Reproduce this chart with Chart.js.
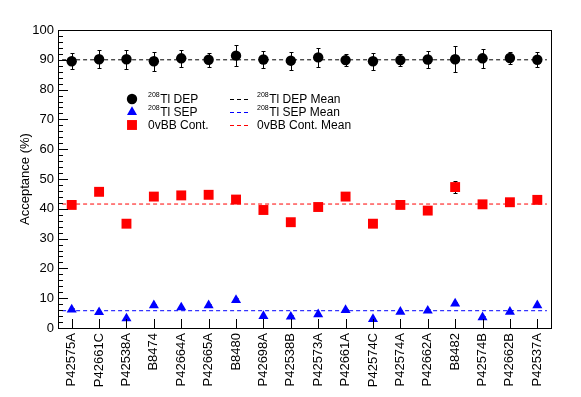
<!DOCTYPE html>
<html>
<head>
<meta charset="utf-8">
<script src="https://cdn.jsdelivr.net/npm/chart.js@4.4.0/dist/chart.umd.min.js"></script>
<style>
  body { margin: 0; background: #fff; }
</style>
</head>
<body>
<canvas id="accChart" width="581" height="397"></canvas>
<script>
// Detectors along the x axis
const detectors = ['P42575A', 'P42661C', 'P42538A', 'B8474', 'P42664A', 'P42665A', 'B8480', 'P42698A', 'P42538B',
    'P42573A', 'P42661A', 'P42574C', 'P42574A', 'P42662A', 'B8482', 'P42574B', 'P42662B', 'P42537A'];

// Acceptance (%) and errors
const depValues = [89.5, 90.2, 90.2, 89.5, 90.5, 90.0, 91.4, 90.1, 89.7, 90.8, 89.9, 89.5, 89.9, 90.1, 90.2, 90.5, 90.6, 90.0];
const depErrors = [2.7, 3.1, 3.2, 3.2, 2.8, 2.4, 3.5, 2.7, 3.0, 3.3, 2.1, 2.8, 2.0, 3.0, 4.4, 3.2, 2.1, 2.5];
const sepValues = [6.2, 5.3, 3.2, 7.6, 6.9, 7.6, 9.4, 4.0, 3.8, 4.6, 6.0, 3.0, 5.4, 5.8, 8.2, 3.6, 5.4, 7.6];
const sepErrors = [0.5, 0.5, 0.4, 0.5, 0.5, 0.5, 0.6, 0.4, 0.4, 0.5, 0.5, 0.4, 0.5, 0.5, 0.6, 0.4, 0.5, 0.5];
const bbValues = [41.3, 45.7, 35.0, 44.1, 44.5, 44.7, 43.1, 39.6, 35.5, 40.6, 44.1, 35.0, 41.3, 39.4, 47.3, 41.5, 42.2, 43.0];
const bbErrors = [1.0, 1.0, 1.0, 1.0, 1.0, 1.0, 1.0, 1.0, 1.0, 1.0, 1.0, 1.0, 1.0, 1.0, 2.1, 1.0, 1.0, 1.0];

// Mean values
const depMean = 90.0;
const sepMean = 5.8;
const bbMean = 41.6;

Chart.defaults.font.family = '"Liberation Sans", Arial, sans-serif';
Chart.defaults.color = '#000';

function meanLine(label, value, color) {
    return {
        label: label,
        data: [{ x: 0.15, y: value }, { x: 17.85, y: value }],
        xAxisID: 'xm',
        borderColor: color,
        borderWidth: 1,
        borderDash: [4, 3],
        pointRadius: 0,
        order: 1,
        legendCol: 1
    };
}

// ROOT-like frame, inward ticks, error bars and legend
const rootStyle = {
    id: 'rootStyle',
    beforeDatasetsDraw(chart) {
        const { ctx, scales: { x, y } } = chart;
        ctx.save();
        ctx.strokeStyle = '#000';
        ctx.lineWidth = 1;
        chart.data.datasets.forEach(ds => {
            if (!ds.errors) return;
            ds.data.forEach((v, i) => {
                const px = Math.round(x.getPixelForValue(i)) + 0.5;
                const top = Math.round(y.getPixelForValue(v + ds.errors[i])) + 0.5;
                const bot = Math.round(y.getPixelForValue(v - ds.errors[i])) + 0.5;
                ctx.beginPath();
                ctx.moveTo(px, top);
                ctx.lineTo(px, bot);
                ctx.moveTo(px - 2, top);
                ctx.lineTo(px + 2, top);
                ctx.moveTo(px - 2, bot);
                ctx.lineTo(px + 2, bot);
                ctx.stroke();
            });
        });
        ctx.restore();
    },
    afterDraw(chart) {
        const { ctx, chartArea: area, scales: { x, y } } = chart;
        ctx.save();
        ctx.strokeStyle = '#000';
        ctx.lineWidth = 1;
        ctx.strokeRect(Math.round(area.left) + 0.5, Math.round(area.top) + 0.5,
            Math.round(area.right - area.left), Math.round(area.bottom - area.top));

        // y ticks: major every 10, minor every 2
        ctx.beginPath();
        for (let v = 0; v <= 100; v += 2) {
            const py = Math.round(y.getPixelForValue(v)) + 0.5;
            const len = v % 10 === 0 ? 10 : 5;
            ctx.moveTo(area.left, py);
            ctx.lineTo(area.left + len, py);
        }
        // x ticks at bin centres
        detectors.forEach((d, i) => {
            const px = Math.round(x.getPixelForValue(i)) + 0.5;
            ctx.moveTo(px, area.bottom);
            ctx.lineTo(px, area.bottom - 9);
        });
        ctx.stroke();

        // legend
        const rows = [99, 112, 125];
        const cols = [{ mark: 132, text: 148 }, { mark: 230, text: 257 }];
        const count = [0, 0];
        chart.data.datasets.forEach(ds => {
            const c = ds.legendCol;
            const row = rows[count[c]++];
            const col = cols[c];
            if (c === 0) {
                ctx.fillStyle = ds.pointBackgroundColor;
                Chart.helpers.drawPoint(ctx, { pointStyle: ds.pointStyle, radius: ds.pointRadius, rotation: 0, borderWidth: 0 }, col.mark, row);
            } else {
                ctx.strokeStyle = ds.borderColor;
                ctx.setLineDash(ds.borderDash);
                ctx.beginPath();
                ctx.moveTo(col.mark, row + 0.5);
                ctx.lineTo(col.mark + 20, row + 0.5);
                ctx.stroke();
                ctx.setLineDash([]);
            }
            ctx.fillStyle = '#000';
            ctx.textBaseline = 'middle';
            ctx.textAlign = 'left';
            let tx = col.text;
            let label = ds.label;
            const m = label.match(/^\^\{(\d+)\}(.*)$/);
            if (m) {
                ctx.font = '7px "Liberation Sans", Arial, sans-serif';
                ctx.fillText(m[1], tx, row - 4);
                tx += ctx.measureText(m[1]).width + 0.5;
                label = m[2];
            }
            ctx.font = '12px "Liberation Sans", Arial, sans-serif';
            ctx.fillText(label, tx, row + 1);
        });
        ctx.restore();
    }
};

new Chart(document.getElementById('accChart'), {
    type: 'line',
    data: {
        labels: detectors,
        datasets: [
            {
                label: '^{208}Tl DEP',
                data: depValues,
                errors: depErrors,
                showLine: false,
                pointStyle: 'circle',
                pointRadius: 5.2,
                pointBackgroundColor: '#000',
                pointBorderWidth: 0,
                order: 0,
                legendCol: 0
            },
            {
                label: '^{208}Tl SEP',
                data: sepValues,
                errors: sepErrors,
                showLine: false,
                pointStyle: 'triangle',
                pointRadius: 5.8,
                pointBackgroundColor: '#0000ff',
                pointBorderWidth: 0,
                order: 0,
                legendCol: 0
            },
            {
                label: '0vBB Cont.',
                data: bbValues,
                errors: bbErrors,
                showLine: false,
                pointStyle: 'rect',
                pointRadius: 7,
                pointBackgroundColor: '#ff0000',
                pointBorderWidth: 0,
                order: 0,
                legendCol: 0
            },
            meanLine('^{208}Tl DEP Mean', depMean, '#000000'),
            meanLine('^{208}Tl SEP Mean', sepMean, '#0000ff'),
            meanLine('0vBB Cont. Mean', bbMean, '#ff0000')
        ]
    },
    options: {
        responsive: false,
        animation: false,
        layout: { padding: { top: 30, right: 30, left: 0, bottom: 0 } },
        plugins: {
            legend: { display: false },
            tooltip: { enabled: false }
        },
        scales: {
            x: {
                offset: true,
                grid: { display: false, drawTicks: false },
                border: { display: false },
                ticks: {
                    autoSkip: false,
                    minRotation: 90,
                    maxRotation: 90,
                    padding: 5,
                    font: { size: 13 }
                },
                afterFit: (scale) => { scale.height = 69; }
            },
            xm: {
                type: 'linear',
                display: false,
                min: 0,
                max: 18
            },
            y: {
                min: 0,
                max: 100,
                grid: { display: false, drawTicks: false },
                border: { display: false },
                ticks: { stepSize: 10, padding: 4, font: { size: 13 } },
                title: {
                    display: true,
                    text: 'Acceptance (%)',
                    font: { size: 13 },
                    padding: { top: 18 }
                },
                afterFit: (scale) => { scale.width = 58; }
            }
        }
    },
    plugins: [rootStyle]
});
</script>
</body>
</html>
